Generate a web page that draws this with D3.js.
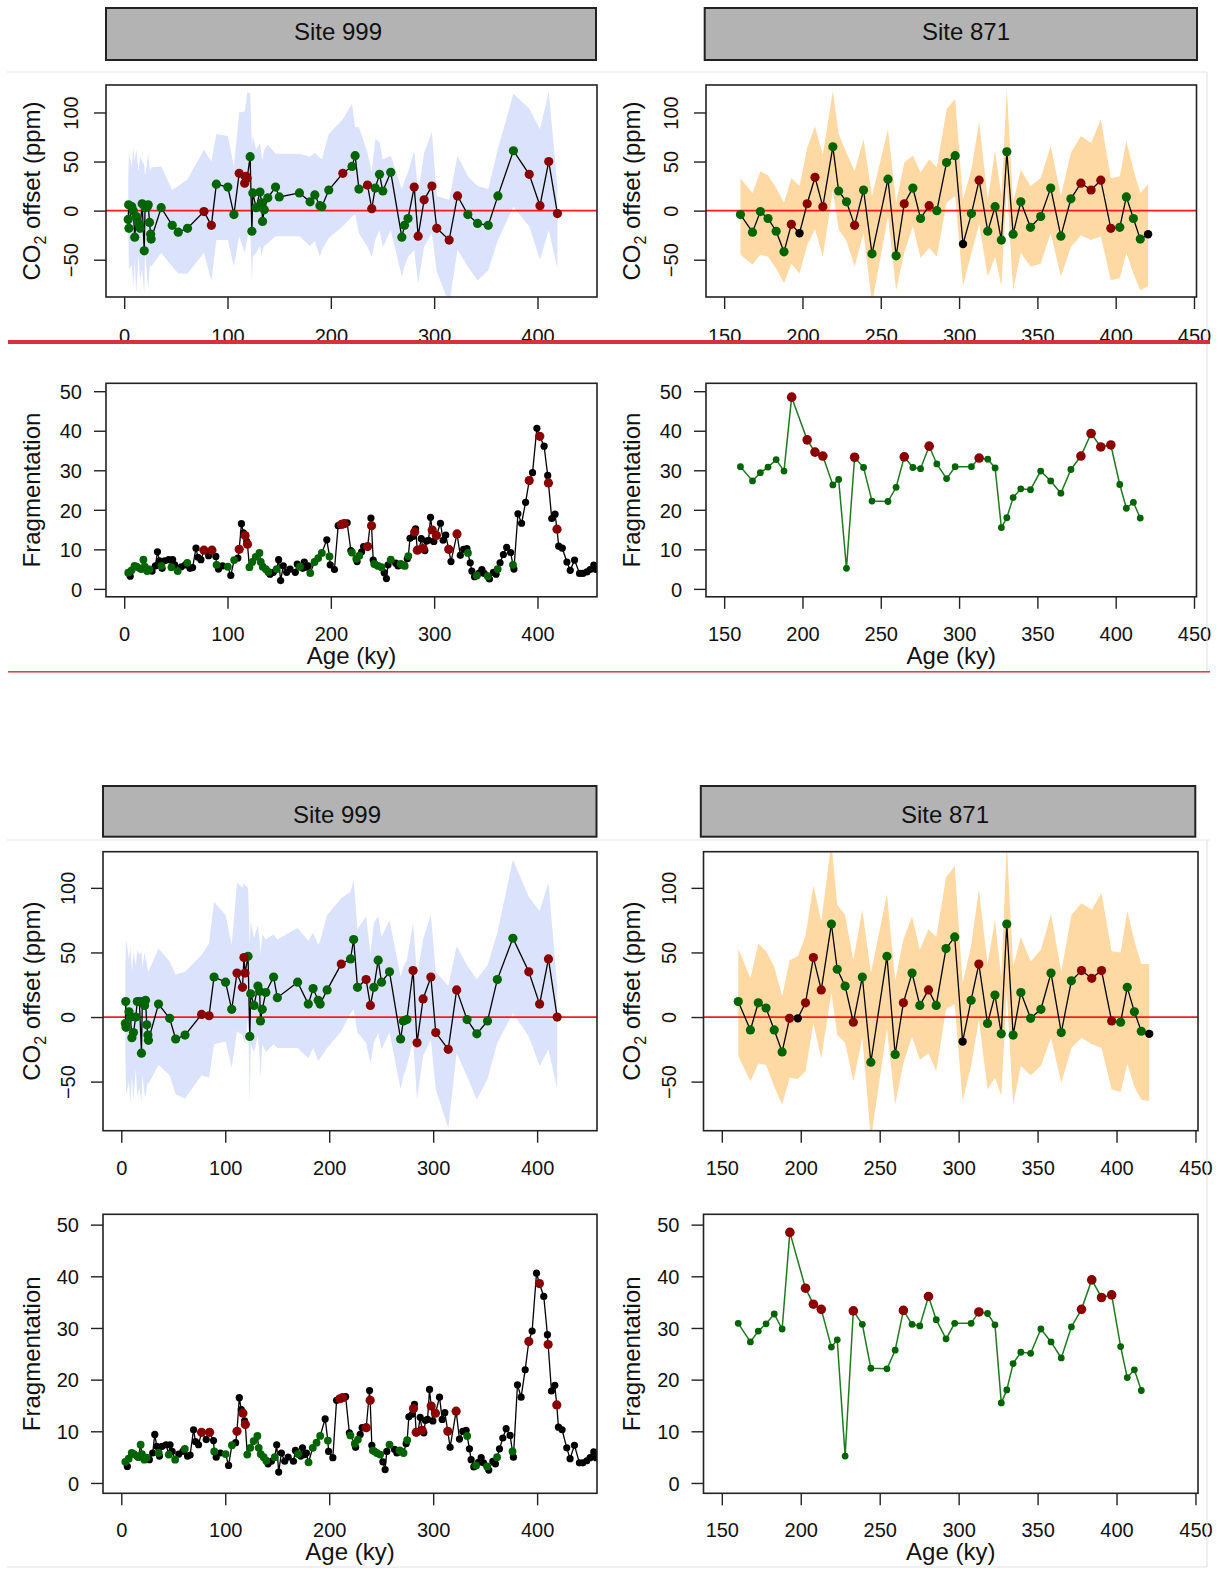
<!DOCTYPE html>
<html>
<head>
<meta charset="utf-8">
<script src="https://cdn.jsdelivr.net/npm/d3@7"></script>
<style>
  body { margin: 0; background: #fff; }
  svg { display: block; }
</style>
</head>
<body>
<svg id="chart" width="1218" height="1571"></svg>
<script>
/* ---------------------------------------------- */
/* CO2 offset + fragmentation, Site 999 / Site 871 */
/* two versions of the same figure, stacked        */
/* ---------------------------------------------- */

// ---- Site 999, CO2 offset (ppm) ----
const co2_999Age = [3.9, 4.3, 4.6, 7.4, 8.8, 10.2, 11.7, 13.9, 15.4, 17.4, 19.4, 20.2, 22.4, 23.3, 24.5, 25.6, 26.1,
  35.8, 46.5, 52.3, 61.3, 77.2, 84.4, 89.2, 100.3, 106.2, 111.3, 116.6, 118.0, 119.0, 121.9, 123.6, 124.5, 127.7,
  131.4, 133.1, 133.9, 135.6, 139.0, 146.5, 150.1, 169.6, 179.9, 184.5, 189.4, 191.3, 198.0, 211.6, 220.5, 223.5,
  227.2, 235.5, 239.6, 243.0, 247.1, 250.3, 258.0, 268.7, 271.3, 274.7, 280.7, 284.5, 290.3, 297.8, 302.5, 314.5,
  322.6, 332.6, 342.0, 352.3, 361.7, 376.7, 392.0, 402.4, 410.9, 419.3];
// g = green, r = dark red, k = black
const co2_999Code = ("ggggggggggggggggg" + "ggggrrgggrrrr" + "ggggggggggggggggg" + "r" + "ggg" + "rr" +
  "ggggggg" + "rrrrrrr" + "ggggg" + "rrrr").split("");

// first version (upper figure)
const co2_999A = [-9, 6, -18, 4, 0, -27, -6, -13, -18, 7, -41, 3, 4, 6, -12, -24, -29,
  3, -15, -22, -18, -1, -15, 27, 24, -4, 38, 28, 35, 33, 55, -21, 18, 3, 19, 8, -11, 1, 13, 24, 14, 18, 9, 16, 5, 4,
  21, 38, 45, 56, 22, 26, 2, 23, 37, 20, 39, -27, -15, -8, 24, -26, 11, 25, -18, -30, 15, -4, -13, -15, 15, 61, 37,
  5, 50, -3];
const co2_999AHi = [58, 30, 59, 45, 64, 50, 62, 40, 55, 50, 47, 35, 50, 58, 44, 40, 44,
  45, 21, 25, 32, 62, 50, 78, 76, 45, 100, 101, 110, 120, 120, 66, 76, 62, 69, 55, 52, 62, 67, 58, 58, 58, 55, 59,
  54, 52, 78, 93, 109, 85, 85, 59, 39, 73, 70, 52, 56, 22, 30, 39, 61, 18, 59, 80, 15, 11, 56, 35, 25, 22, 63, 119,
  104, 83, 121, 25];
const co2_999ALo = [-65, -20, -60, -55, -77, -50, -84, -45, -70, -60, -84, -40, -70, -80, -60, -55, -57,
  -43, -57, -64, -64, -43, -72, -30, -30, -57, -26, -43, -35, -30, -13, -74, -47, -43, -36, -47, -40, -36, -33, -26,
  -26, -26, -36, -31, -47, -40, -28, -16, -6, -4, -23, -37, -47, -30, -20, -37, -20, -67, -57, -47, -40, -74, -37,
  -23, -62, -95, -40, -57, -71, -61, -30, 4, -16, -50, -20, -59];

// second version (lower figure)
const co2_999B = [-5, 12, -8, 4, 0, -16, -12, 0, 12, 12, -28, 12, 9, 13, -6, -14, -18,
  10, -1, -17, -14, 2, 1, 31, 27, 6, 34, 23, 46, 34, 47, -15, 18, 9, 24, 20, -3, 6, 19, 31, 15, 27, 10, 22, 13, 10,
  21, 41, 45, 60, 23, 29, 9, 23, 44, 27, 35, -17, -3, -2, 36, -20, 14, 31, -12, -25, 21, -2, -13, -3, 29, 61, 35, 10,
  45, 0];
const co2_999BHi = [62, 40, 60, 45, 55, 35, 50, 40, 52, 48, 51, 38, 50, 45, 42, 36, 35,
  53, 43, 33, 35, 48, 57, 89, 79, 56, 104, 100, 104, 102, 100, 56, 74, 61, 71, 59, 48, 64, 60, 64, 60, 69, 59, 65,
  56, 59, 79, 92, 97, 106, 68, 78, 49, 73, 78, 62, 75, 31, 39, 44, 73, 31, 60, 79, 35, 24, 55, 40, 29, 40, 65, 122,
  93, 82, 104, 24];
const co2_999BLo = [-57, -30, -60, -50, -68, -45, -65, -40, -62, -55, -66, -45, -60, -62, -55, -50, -52,
  -37, -45, -60, -63, -45, -47, -21, -19, -39, -11, -14, -18, -21, -1, -68, -21, -27, -14, -32, -47, -21, -27, -21,
  -24, -24, -32, -24, -34, -32, -24, -11, 3, 6, -12, -20, -36, -20, -12, -25, -12, -56, -46, -38, -18, -64, -30,
  -18, -56, -86, -28, -46, -64, -48, -20, 3, -15, -38, -25, -56];

// ---- Site 871, CO2 offset (ppm) ----
const co2_871Age = [160.4, 168.1, 173.1, 178.0, 183.2, 188.2, 192.9, 198.1, 203.0, 208.0, 213.0, 219.4, 223.1,
  228.1, 233.3, 239.0, 244.4, 254.6, 259.8, 265.0, 270.5, 275.4, 280.9, 285.8, 292.0, 297.5, 302.5, 307.9, 312.8,
  318.3, 323.0, 327.0, 330.5, 334.5, 339.4, 345.6, 352.1, 358.5, 365.0, 371.4, 377.8, 384.3, 390.5, 396.9, 402.6,
  406.8, 411.3, 415.7, 420.7];
const co2_871Code = "ggggggrkrrrgggrggggrggrgggkgrgggggggggggrrrrggggk".split("");

const co2_871A = [-4, -22, -1, -8, -21, -42, -14, -23, 7, 34, 4, 65, 20, 9, -15, 21, -44, 32, -46, 7, 23, -8, 5, 0,
  49, 56, -34, -3, 31, -21, 4, -30, 60, -24, 9, -17, -6, 23, -26, 12, 28, 21, 31, -18, -17, 14, -8, -29, -24];
const co2_871AHi = [33, 18, 40, 36, 23, 8, 33, 25, 64, 86, 57, 122, 78, 59, 40, 73, 15, 83, 8, 49, 56, 39, 52, 44,
  103, 114, 11, 42, 91, 11, 61, 15, 124, 8, 42, 25, 33, 66, 15, 59, 76, 69, 93, 33, 35, 71, 42, 18, 27];
const co2_871ALo = [-45, -55, -45, -47, -59, -74, -54, -64, -35, -19, -47, 21, -19, -31, -57, -23, -95, -6, -81,
  -43, -16, -48, -38, -47, 8, 15, -77, -43, -14, -67, -47, -77, 25, -81, -43, -57, -54, -23, -67, -37, -25, -30,
  -26, -71, -69, -43, -64, -81, -77];

const co2_871B = [12, -10, 11, 7, -10, -27, -1, -1, 11, 46, 21, 72, 37, 24, -4, 31, -35, 47, -29, 11, 34, 9, 21, 9,
  53, 62, -19, 13, 41, -5, 17, -13, 72, -14, 19, -1, 6, 34, -12, 28, 36, 30, 36, -3, -4, 23, 4, -11, -13];
const co2_871BHi = [53, 30, 57, 51, 39, 16, 44, 47, 63, 102, 74, 135, 87, 79, 44, 83, 34, 95, 28, 60, 78, 52, 68,
  62, 108, 117, 26, 55, 99, 41, 75, 31, 135, 39, 62, 43, 52, 80, 35, 79, 88, 83, 96, 51, 50, 82, 59, 41, 41];
const co2_871BLo = [-30, -50, -36, -37, -54, -68, -47, -48, -42, -5, -32, 19, -14, -20, -50, -16, -95, -9, -68,
  -36, -15, -33, -28, -42, 6, 10, -65, -38, -2, -56, -47, -61, 19, -68, -38, -45, -38, -16, -51, -24, -16, -21,
  -24, -56, -58, -36, -54, -64, -65];

// ---- Site 871, fragmentation ----
const frag_871Age = [160.4, 168.1, 173.1, 178.0, 183.2, 188.2, 193.1, 203.0, 208.0, 213.0, 219.4, 223.1, 228.1,
  233.3, 239.0, 244.4, 254.6, 259.8, 265.0, 270.5, 275.4, 280.9, 285.8, 292.0, 297.5, 307.9, 312.8, 318.3, 323.0,
  327.0, 330.5, 334.5, 339.4, 345.6, 352.1, 358.5, 365.0, 371.4, 377.8, 384.3, 390.5, 396.9, 402.6, 406.8, 411.3,
  415.7];
const frag_871Val = [30.9, 27.3, 29.4, 30.8, 32.7, 29.8, 48.5, 37.7, 34.6, 33.6, 26.3, 27.7, 5.2, 33.3, 30.7, 22.2,
  22.1, 25.7, 33.4, 30.7, 30.4, 36.1, 31.6, 27.9, 30.9, 30.9, 33.1, 32.8, 30.6, 15.5, 18.0, 23.1, 25.3, 25.1, 29.8,
  27.3, 24.2, 30.2, 33.6, 39.3, 35.9, 36.4, 26.4, 20.4, 21.9, 17.9];
const frag_871Code = "ggggggrrrrgggrggggrggrggggrgggggggggggrrrrgggg".split("");

// ---- Site 999, fragmentation: [age, value, colour code] ----
const frag_999 = [
  [3.9, 4.1, "g"], [5.8, 3.2, "k"], [7.1, 4.7, "g"], [10.0, 5.8, "g"], [12.2, 5.6, "g"], [14.8, 5.2, "k"],
  [16.5, 5.0, "g"], [18.6, 7.4, "g"], [19.9, 5.6, "g"], [22.2, 4.5, "g"], [24.4, 4.9, "g"], [27.0, 4.5, "k"],
  [30.2, 5.8, "k"], [32.2, 9.4, "k"], [34.1, 7.1, "k"], [36.0, 5.8, "g"], [36.7, 5.2, "k"], [39.2, 7.1, "k"],
  [43.1, 7.4, "k"], [45.7, 5.5, "g"], [46.9, 7.4, "k"], [48.9, 6.1, "k"], [51.8, 4.5, "g"], [55.3, 5.6, "k"],
  [59.2, 6.1, "k"], [61.1, 6.6, "g"], [63.7, 5.2, "k"], [66.2, 5.4, "k"], [69.5, 10.3, "k"], [71.4, 8.0, "k"],
  [74.3, 7.4, "k"], [77.2, 9.8, "r"], [81.7, 8.4, "k"], [84.9, 9.8, "r"], [88.7, 8.2, "k"], [89.4, 6.1, "g"],
  [91.3, 5.0, "k"], [95.2, 5.8, "k"], [100.3, 5.6, "g"], [103.2, 3.4, "k"], [106.4, 7.3, "g"], [110.0, 7.8, "k"],
  [111.3, 10.0, "r"], [113.5, 16.5, "k"], [115.4, 14.2, "k"], [117.0, 13.5, "r"], [118.6, 12.0, "k"],
  [119.3, 11.3, "r"], [121.2, 5.5, "g"], [124.1, 6.8, "g"], [127.3, 8.1, "g"], [130.9, 9.1, "g"], [132.2, 6.8, "g"],
  [134.1, 5.6, "g"], [137.0, 5.0, "g"], [139.5, 4.3, "g"], [141.2, 3.7, "k"], [144.4, 4.2, "k"], [147.6, 5.0, "g"],
  [149.5, 7.4, "k"], [151.4, 2.1, "k"], [154.0, 5.8, "k"], [157.2, 4.2, "k"], [160.5, 5.0, "k"], [165.6, 4.2, "k"],
  [167.5, 6.3, "k"], [170.1, 5.6, "g"], [172.7, 5.2, "k"], [174.3, 6.8, "k"], [176.5, 5.5, "k"], [178.1, 5.8, "k"],
  [180.1, 4.0, "g"], [184.2, 6.8, "g"], [187.8, 7.8, "g"], [191.3, 9.1, "g"], [196.1, 12.4, "k"], [198.7, 8.2, "g"],
  [199.4, 6.1, "k"], [203.5, 4.9, "k"], [207.1, 16.0, "k"], [210.3, 16.3, "r"], [212.9, 16.5, "r"],
  [215.8, 16.7, "k"], [219.4, 9.7, "k"], [220.4, 9.2, "g"], [224.6, 7.6, "g"], [225.4, 6.9, "k"], [227.6, 8.4, "g"],
  [229.8, 9.4, "k"], [231.7, 10.7, "k"], [235.6, 10.7, "r"], [238.8, 17.9, "k"], [239.4, 16.0, "r"],
  [241.0, 7.3, "k"], [242.0, 6.3, "g"], [243.6, 6.1, "k"], [245.8, 5.8, "g"], [249.0, 5.5, "g"], [251.6, 4.1, "k"],
  [253.8, 2.6, "k"], [255.4, 6.1, "k"], [258.0, 7.4, "g"], [262.8, 6.5, "k"], [265.1, 5.8, "k"], [267.6, 6.3, "g"],
  [269.2, 6.1, "g"], [271.5, 5.8, "g"], [274.0, 7.6, "k"], [275.0, 8.3, "g"], [276.6, 12.8, "k"], [279.8, 13.3, "k"],
  [281.1, 14.4, "r"], [282.0, 15.2, "k"], [283.7, 9.8, "r"], [285.5, 10.0, "k"], [287.5, 12.7, "k"],
  [289.4, 10.2, "r"], [291.0, 9.7, "k"], [292.6, 12.1, "k"], [294.6, 12.3, "k"], [296.5, 18.1, "k"],
  [298.1, 14.9, "r"], [299.7, 12.0, "k"], [302.2, 13.5, "r"], [306.1, 16.6, "k"], [308.7, 12.3, "k"],
  [311.2, 13.6, "k"], [314.1, 10.0, "r"], [316.3, 6.9, "k"], [322.1, 13.9, "r"], [325.3, 8.5, "k"],
  [328.5, 10.0, "k"], [331.7, 10.2, "k"], [332.7, 9.1, "g"], [334.9, 6.6, "k"], [336.5, 4.5, "k"], [339.1, 3.1, "k"],
  [341.3, 3.4, "g"], [343.5, 4.0, "k"], [346.2, 4.9, "k"], [348.4, 3.9, "k"], [351.9, 3.2, "g"], [353.5, 2.5, "k"],
  [357.4, 4.2, "k"], [359.9, 3.7, "k"], [361.5, 5.0, "g"], [363.8, 6.6, "k"], [367.0, 8.7, "k"], [370.2, 10.5, "k"],
  [374.0, 9.2, "k"], [376.3, 6.1, "g"], [377.2, 5.0, "k"], [381.1, 19.0, "k"], [384.6, 16.6, "k"],
  [388.5, 21.9, "k"], [392.0, 27.4, "r"], [395.2, 29.4, "k"], [399.4, 40.6, "k"], [402.2, 38.6, "r"],
  [406.4, 36.1, "k"], [409.9, 28.7, "k"], [410.6, 26.8, "r"], [413.8, 17.8, "k"], [417.0, 18.9, "k"],
  [418.9, 15.1, "r"], [420.5, 10.8, "k"], [424.0, 10.3, "k"], [428.5, 6.8, "k"], [431.7, 4.7, "k"],
  [435.9, 7.3, "k"], [440.7, 3.9, "k"], [443.9, 3.9, "k"], [447.8, 4.3, "k"], [451.0, 4.9, "k"], [454.5, 6.0, "k"],
  [456.7, 4.9, "k"], [460.0, 5.5, "k"]
];

// axis ticks
const ticks999 = [0, 100, 200, 300, 400];
const ticks871 = [150, 200, 250, 300, 350, 400, 450];
const ticksCo2 = [-50, 0, 50, 100];
const ticksFrag = [0, 10, 20, 30, 40, 50];

/* ---------------------------------------------- */
const FONT = '"Liberation Sans", Arial, Helvetica, sans-serif';
const colorOf = { g: "#006400", r: "#8b0000", k: "#000000" };
const drawOrder = { k: 0, g: 1, r: 2 };
const svg = d3.select("#chart").attr("font-family", FONT);
svg.append("rect").attr("width", 1218).attr("height", 1571).attr("fill", "#fff");
let clipNo = 0;

// R-style axis range: limits widened by 4 %
const widen = lim => [lim[0] - 0.04 * (lim[1] - lim[0]), lim[1] + 0.04 * (lim[1] - lim[0])];

function header(x0, x1, y0, y1, label, cx, base) {
  svg.append("rect")
    .attr("x", x0).attr("y", y0).attr("width", x1 - x0).attr("height", y1 - y0)
    .attr("fill", "#b3b3b3").attr("stroke", "#222").attr("stroke-width", 2);
  svg.append("text")
    .attr("x", cx).attr("y", base)
    .attr("text-anchor", "middle").attr("font-size", 24).attr("fill", "#111")
    .text(label);
}

function drawPanel(p) {
  const b = p.box;
  const x = d3.scaleLinear().domain(widen(p.xlim)).range([b.x0, b.x1]);
  const y = d3.scaleLinear().domain(widen(p.ylim)).range([b.y1, b.y0]);

  const id = "clip" + (clipNo++);
  svg.append("clipPath").attr("id", id).append("rect")
    .attr("x", b.x0).attr("y", b.y0).attr("width", b.x1 - b.x0).attr("height", b.y1 - b.y0);
  const g = svg.append("g").attr("clip-path", `url(#${id})`);

  // uncertainty band
  if (p.band) {
    g.append("path").datum(p.band)
      .attr("d", d3.area().x(d => x(d.a)).y0(d => y(d.lo)).y1(d => y(d.hi)))
      .attr("fill", p.bandColor);
  }
  // zero line
  if (p.zero) {
    g.append("line")
      .attr("x1", b.x0).attr("x2", b.x1).attr("y1", y(0)).attr("y2", y(0))
      .attr("stroke", "#ff1a1a").attr("stroke-width", 1.8);
  }
  // connecting line
  g.append("path").datum(p.points)
    .attr("d", d3.line().x(d => x(d.a)).y(d => y(d.v)))
    .attr("fill", "none").attr("stroke", p.lineColor).attr("stroke-width", p.lineWidth);
  // points
  const pts = p.points.slice().sort((m, n) => drawOrder[m.c] - drawOrder[n.c]);
  g.selectAll("circle.pt").data(pts).join("circle")
    .attr("class", "pt")
    .attr("cx", d => x(d.a)).attr("cy", d => y(d.v))
    .attr("r", d => p.radius[d.c])
    .attr("fill", d => colorOf[d.c] || colorOf.g);

  // frame
  svg.append("rect")
    .attr("x", b.x0).attr("y", b.y0).attr("width", b.x1 - b.x0).attr("height", b.y1 - b.y0)
    .attr("fill", "none").attr("stroke", "#222").attr("stroke-width", 1.6);

  // x axis
  const xa = svg.append("g").attr("transform", `translate(0,${b.y1})`)
    .call(d3.axisBottom(x).tickValues(p.xticks).tickSize(12).tickFormat(d3.format("d")));
  xa.attr("font-size", 20).attr("font-family", FONT);
  xa.select(".domain").remove();
  xa.selectAll(".tick line").attr("stroke", "#222").attr("stroke-width", 1.4);
  xa.selectAll(".tick text").attr("y", p.xLabelY || 44).attr("dy", null).attr("fill", "#111");

  // y axis
  const ya = svg.append("g").attr("transform", `translate(${b.x0},0)`)
    .call(d3.axisLeft(y).tickValues(p.yticks).tickSize(12).tickFormat(d3.format("d")));
  ya.attr("font-size", 20).attr("font-family", FONT);
  ya.select(".domain").remove();
  ya.selectAll(".tick line").attr("stroke", "#222").attr("stroke-width", 1.4);
  if (p.rotateY) {
    ya.selectAll(".tick text")
      .attr("x", null).attr("dy", null)
      .attr("transform", "translate(-28,0) rotate(-90)")
      .attr("text-anchor", "middle").attr("fill", "#111");
  } else {
    ya.selectAll(".tick text")
      .attr("x", -24).attr("dy", "0.36em")
      .attr("text-anchor", "end").attr("fill", "#111");
  }

  // y title
  const yt = svg.append("text")
    .attr("transform", `translate(${p.titleX},${(b.y0 + b.y1) / 2}) rotate(-90)`)
    .attr("text-anchor", "middle").attr("font-size", 24).attr("fill", "#111");
  if (p.co2) {
    yt.append("tspan").text("CO");
    yt.append("tspan").attr("font-size", 16).attr("dy", 6).text("2");
    yt.append("tspan").attr("dy", -6).text(" offset (ppm)");
  } else {
    yt.text(p.ytitle);
  }
  // x title
  if (p.xtitle) {
    svg.append("text")
      .attr("x", (b.x0 + b.x1) / 2).attr("y", b.y1 + 67)
      .attr("text-anchor", "middle").attr("font-size", 24).attr("fill", "#111")
      .text(p.xtitle);
  }
}

// build point / band records from the arrays
const pts = (ages, vals, codes) => ages.map((a, i) => ({ a, v: vals[i], c: codes[i] }));
const band = (ages, lo, hi) => ages.map((a, i) => ({ a, lo: lo[i], hi: hi[i] }));
const frag999Pts = frag_999.map(d => ({ a: d[0], v: d[1], c: d[2] }));

const blueBand = "#dbe2fb";
const orangeBand = "#fed9a3";
const co2Radius = { g: 4.6, r: 4.6, k: 4.2 };
const frag999Radius = { g: 3.9, r: 4.6, k: 3.6 };
const frag871Radius = { g: 3.4, r: 4.8, k: 3.4 };

function figure(top, co2A999, co2Lo999, co2Hi999, co2A871, co2Lo871, co2Hi871, xLabelCut) {
  const L = top.left, R = top.right;
  header(L.hx0, L.hx1, top.hy0, top.hy1, "Site 999", L.tcx, top.tBase);
  header(R.hx0, R.hx1, top.hy0, top.hy1, "Site 871", R.tcx, top.tBase);

  drawPanel({
    box: { x0: L.x0, x1: L.x1, y0: top.c0, y1: top.c1 },
    xlim: [0, 440], ylim: [-80, 120], xticks: ticks999, yticks: ticksCo2,
    band: band(co2_999Age, co2Lo999, co2Hi999), bandColor: blueBand, zero: true,
    points: pts(co2_999Age, co2A999, co2_999Code), lineColor: "#000", lineWidth: 1.3,
    radius: co2Radius, rotateY: true, co2: true, titleX: L.titleX, xLabelY: xLabelCut
  });
  drawPanel({
    box: { x0: R.x0, x1: R.x1, y0: top.c0, y1: top.c1 },
    xlim: [150, 440], ylim: [-80, 120], xticks: ticks871, yticks: ticksCo2,
    band: band(co2_871Age, co2Lo871, co2Hi871), bandColor: orangeBand, zero: true,
    points: pts(co2_871Age, co2A871, co2_871Code), lineColor: "#000", lineWidth: 1.3,
    radius: co2Radius, rotateY: true, co2: true, titleX: R.titleX, xLabelY: xLabelCut
  });
  drawPanel({
    box: { x0: L.x0, x1: L.x1, y0: top.f0, y1: top.f1 },
    xlim: [0, 440], ylim: [0, 50], xticks: ticks999, yticks: ticksFrag,
    points: frag999Pts, lineColor: "#000", lineWidth: 1.3,
    radius: frag999Radius, rotateY: false, ytitle: "Fragmentation", titleX: L.titleX, xtitle: "Age (ky)"
  });
  drawPanel({
    box: { x0: R.x0, x1: R.x1, y0: top.f0, y1: top.f1 },
    xlim: [150, 440], ylim: [0, 50], xticks: ticks871, yticks: ticksFrag,
    points: pts(frag_871Age, frag_871Val, frag_871Code), lineColor: "#1f7a1f", lineWidth: 1.5,
    radius: frag871Radius, rotateY: false, ytitle: "Fragmentation", titleX: R.titleX, xtitle: "Age (ky)"
  });
}

// upper figure (first version)
figure({
  hy0: 8, hy1: 60, tBase: 40, c0: 85, c1: 297, f0: 383.3, f1: 596.8,
  left: { hx0: 106, hx1: 596, tcx: 338, x0: 106, x1: 597, titleX: 40 },
  right: { hx0: 704.7, hx1: 1197, tcx: 966, x0: 706, x1: 1196.5, titleX: 640 }
}, co2_999A, co2_999ALo, co2_999AHi, co2_871A, co2_871ALo, co2_871AHi, 46);

// lower figure (second version)
figure({
  hy0: 786, hy1: 836.7, tBase: 823, c0: 851.7, c1: 1130.7, f0: 1214.3, f1: 1493.3,
  left: { hx0: 103, hx1: 596.5, tcx: 337, x0: 103, x1: 597, titleX: 40 },
  right: { hx0: 700.8, hx1: 1195.3, tcx: 945, x0: 703.5, x1: 1198, titleX: 640 }
}, co2_999B, co2_999BLo, co2_999BHi, co2_871B, co2_871BLo, co2_871BHi, 44);

// page furniture: faint screenshot frames and red separators
const faint = "#e4e4e4";
[[7, 72, 1207, 72], [1207, 72, 1207, 672], [7, 840, 1210, 840], [1207, 840, 1207, 1567], [7, 1567, 1207, 1567]]
  .forEach(l => svg.append("line").attr("x1", l[0]).attr("y1", l[1]).attr("x2", l[2]).attr("y2", l[3])
    .attr("stroke", faint).attr("stroke-width", 1.2));
svg.append("rect").attr("x", 8).attr("y", 340).attr("width", 1202).attr("height", 4).attr("fill", "#d2343b");
svg.append("rect").attr("x", 8).attr("y", 671).attr("width", 1202).attr("height", 1.6).attr("fill", "#d8474d");
</script>
</body>
</html>
